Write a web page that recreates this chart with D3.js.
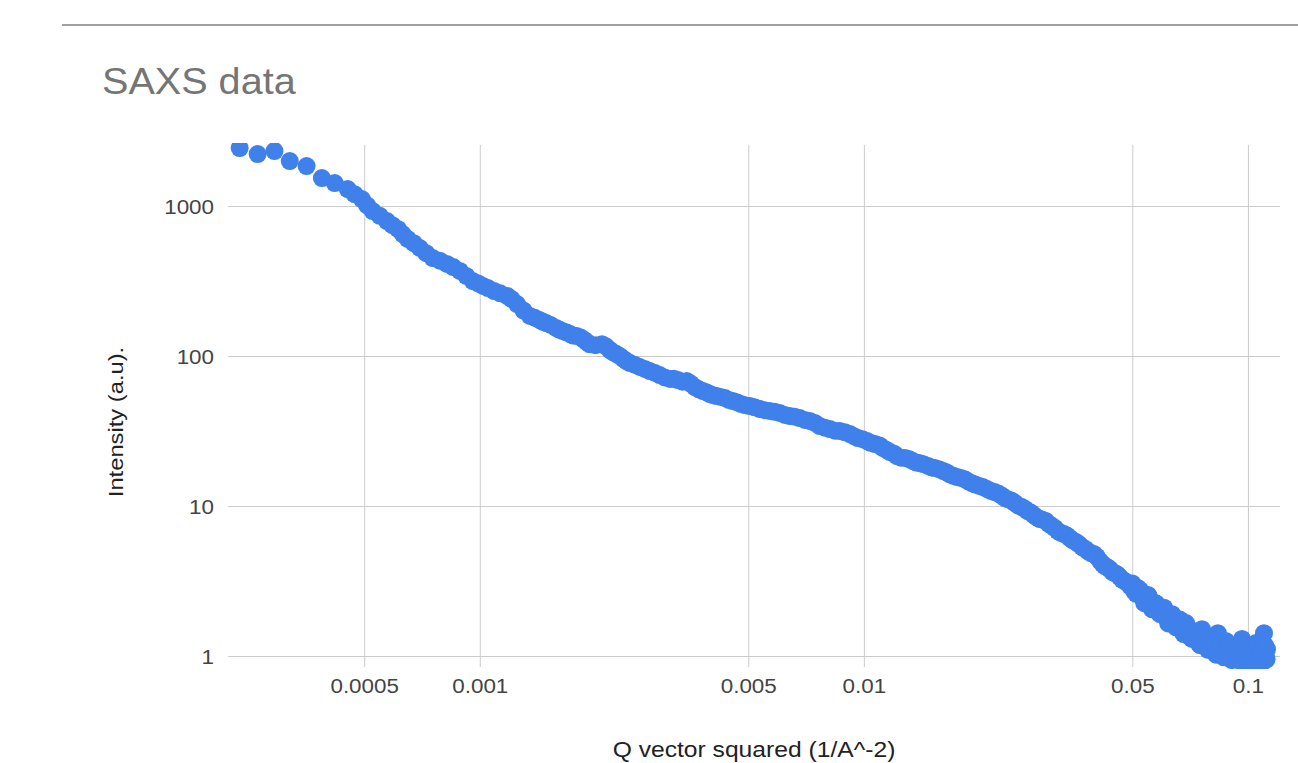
<!DOCTYPE html>
<html>
<head>
<meta charset="utf-8">
<script src="https://cdn.jsdelivr.net/npm/d3@7"></script>
<style>
  body { margin: 0; background: #fff; }
  svg { display: block; font-family: "Liberation Sans", Arial, sans-serif; }
</style>
</head>
<body>
<div id="chart"></div>
<script>
// SAXS curve (scatter, so order does not matter)
let qSquared = [
    0.000237, 0.000264, 0.000292, 0.000320, 0.000354, 0.000388, 0.000419, 0.000453, 0.000493, 0.000526,
    0.000573, 0.000612, 0.000649, 0.000698, 0.000754, 0.000821, 0.000887, 0.000959, 0.00102, 0.00109,
    0.00118, 0.00125, 0.00135, 0.00143, 0.00149, 0.00158, 0.00164, 0.00172, 0.00179, 0.00187,
    0.00193, 0.00208, 0.00218, 0.00227, 0.00237, 0.00246, 0.00261, 0.00277, 0.00294, 0.00313,
    0.00328, 0.00346, 0.00363, 0.00381, 0.00397, 0.00414, 0.00435, 0.00456, 0.00478, 0.00505,
    0.00536, 0.00569, 0.00604, 0.00642, 0.00681, 0.00723, 0.00768, 0.00816, 0.00866, 0.00920,
    0.00965, 0.0102, 0.0107, 0.0112, 0.0117, 0.0122, 0.0128, 0.0134, 0.0140, 0.0147,
    0.0153, 0.0161, 0.0167, 0.0175, 0.0183, 0.0191, 0.0200, 0.0209, 0.0219, 0.0229,
    0.0237, 0.0247, 0.0258, 0.0267, 0.0277, 0.0287, 0.0298, 0.0309, 0.0320, 0.0332,
    0.0344, 0.0357, 0.0370, 0.0383, 0.0397, 0.0412, 0.0424, 0.0437, 0.0451, 0.0464,
    0.0478, 0.0493, 0.0505, 0.0517, 0.0530, 0.0543, 0.0556, 0.0569, 0.0583, 0.0597,
    0.0612, 0.0627, 0.0642, 0.0657, 0.0673, 0.0690, 0.0706, 0.0723, 0.0741, 0.0759,
    0.0777, 0.0796, 0.0816, 0.0835, 0.0856, 0.0876, 0.0898, 0.0919, 0.0942, 0.0965,
    0.0988, 0.1012, 0.1037, 0.1049, 0.1062, 0.1075, 0.1088, 0.1101, 0.1114, 0.1121,
    // points in between, where the markers merge into a band
    0.000472, 0.000509, 0.000549, 0.000592, 0.000630, 0.000673, 0.000725, 0.000787, 0.000853, 0.000922,
    0.00099, 0.00105, 0.00113, 0.00121, 0.00130, 0.00139, 0.00146, 0.00153, 0.00161, 0.00168,
    0.00175, 0.00183, 0.00190, 0.00200, 0.00213, 0.00222, 0.00232, 0.00241, 0.00253, 0.00269,
    0.00285, 0.00303, 0.00320, 0.00337, 0.00354, 0.00372, 0.00389, 0.00405, 0.00424, 0.00445,
    0.00467, 0.00491, 0.00520, 0.00552, 0.00586, 0.00623, 0.00661, 0.00702, 0.00745, 0.00792,
    0.00841, 0.00893, 0.00942, 0.00992, 0.0104, 0.0110, 0.0115, 0.0120, 0.0125, 0.0131,
    0.0137, 0.0143, 0.0150, 0.0157, 0.0164, 0.0171, 0.0179, 0.0187, 0.0195, 0.0204,
    0.0214, 0.0224, 0.0233, 0.0242, 0.0252, 0.0262, 0.0272, 0.0282, 0.0292, 0.0303,
    0.0314, 0.0326, 0.0338, 0.0350, 0.0363, 0.0376, 0.0390, 0.0404, 0.0418, 0.0430,
    0.0444, 0.0457, 0.0471, 0.0485,
    // the noisy tail
    0.0500, 0.0512, 0.0524, 0.0537, 0.0550, 0.0563, 0.0576, 0.0590, 0.0605, 0.0620,
    0.0635, 0.0650, 0.0665, 0.0680, 0.0698, 0.0715, 0.0732, 0.0750, 0.0768, 0.0787,
    0.0806, 0.0826, 0.0846, 0.0866, 0.0887, 0.0908, 0.0930, 0.0953, 0.0976, 0.1000,
    0.1024, 0.1043, 0.1056, 0.1068, 0.1081, 0.1095, 0.1108, 0.1118
];
let intensity = [
    2436, 2222, 2326, 1995, 1848, 1537, 1423, 1298, 1113, 926,
    794, 703, 603, 525, 450, 411, 369, 316, 293, 271,
    251, 222, 185, 174, 166, 154, 147, 140, 136, 128,
    120, 120, 110, 103, 95.5, 89.8, 84.5, 79.4, 74.7, 70.3,
    69.2, 68.1, 62.1, 58.4, 55.8, 54.1, 52.5, 50.1, 47.9, 46.4,
    44.3, 43.0, 41.7, 39.8, 38.6, 36.9, 34.1, 32.6, 31.6, 30.2,
    28.4, 27.1, 25.9, 24.4, 22.9, 21.5, 20.9, 20.0, 19.3, 18.5,
    17.9, 17.1, 16.3, 15.6, 15.1, 14.2, 13.6, 13.0, 12.4, 11.7,
    11.1, 10.5, 9.85, 9.26, 8.71, 8.19, 7.94, 7.36, 6.81, 6.51,
    6.12, 5.75, 5.33, 5.01, 4.79, 4.30, 3.98, 3.80, 3.57, 3.36,
    3.16, 2.93, 2.71, 2.84, 2.47, 2.33, 2.40, 2.12, 2.00, 2.06,
    1.82, 1.71, 1.76, 1.58, 1.47, 1.66, 1.34, 1.42, 1.26, 1.51,
    1.17, 1.30, 1.08, 1.42, 1.05, 1.26, 1.00, 1.17, 0.955, 1.30,
    0.985, 1.11, 0.926, 1.22, 1.00, 1.08, 0.926, 1.42, 0.985, 1.11,
    1200, 1010, 860, 745, 650, 565, 485, 432, 392, 342,
    305, 284, 262, 240, 201, 180, 169, 161, 150, 144,
    137, 133, 124, 118, 116, 106, 99.5, 92.5, 87.5, 82.0,
    77.5, 72.0, 70.5, 67.5, 65.5, 60.0, 57.4, 54.8, 53.4, 51.0,
    49.2, 47.0, 45.5, 43.5, 42.5, 40.5, 39.4, 37.5, 35.8, 33.3,
    31.8, 31.0, 29.2, 27.9, 26.4, 25.3, 23.5, 22.3, 21.0, 20.6,
    19.5, 19.0, 18.1, 17.6, 16.8, 15.9, 15.4, 14.6, 13.9, 13.4,
    12.6, 12.1, 11.3, 10.9, 10.1, 9.6, 9.05, 8.40, 8.10, 7.60,
    7.15, 6.62, 6.35, 5.90, 5.58, 5.20, 4.85, 4.60, 4.12, 3.92,
    3.62, 3.50, 3.22, 3.08,
    3.05, 2.60, 2.75, 2.25, 2.55, 2.05, 2.25, 1.90, 2.10, 1.65,
    1.90, 1.55, 1.75, 1.40, 1.55, 1.30, 1.45, 1.18, 1.40, 1.10,
    1.25, 1.02, 1.20, 0.98, 1.15, 0.94, 1.12, 0.93, 1.18, 0.92,
    1.15, 0.95, 1.20, 0.93, 1.05, 0.92, 1.18, 0.95
];
let xTicks = [0.0005, 0.001, 0.005, 0.01, 0.05, 0.1];
let xTickLabels = ["0.0005", "0.001", "0.005", "0.01", "0.05", "0.1"];
let yTicks = [1, 10, 100, 1000];
let yTickLabels = ["1", "10", "100", "1000"];

let totalWidth = 1298,
    totalHeight = 763;
let margin = { top: 145, right: 18, bottom: 96, left: 228 };
let width = totalWidth - margin.left - margin.right,
    height = totalHeight - margin.top - margin.bottom;

let points = qSquared.map(function(q, i) { return { q: q, v: intensity[i] }; });

let xScale = d3.scaleLog().domain([0.000221, 0.1212]).range([0, width]);
let yScale = d3.scaleLog().domain([0.845, 2552]).range([height, 0]);

// the reference font runs a little wider than Arial
function widen(sel, k) {
    sel.each(function() {
        let len = this.getComputedTextLength();
        d3.select(this).attr("textLength", len * k).attr("lengthAdjust", "spacingAndGlyphs");
    });
}

let svg = d3.select("#chart").append("svg")
    .attr("width", totalWidth)
    .attr("height", totalHeight);

svg.append("line")
    .attr("x1", 62).attr("x2", totalWidth)
    .attr("y1", 25).attr("y2", 25)
    .attr("stroke", "#a0a0a0").attr("stroke-width", 2);

svg.append("text")
    .attr("x", 102).attr("y", 94)
    .attr("font-size", 37)
    .attr("fill", "#757575")
    .text("SAXS data")
    .call(widen, 1.07);

let g = svg.append("g")
    .attr("transform", "translate(" + margin.left + "," + margin.top + ")");

let xAxis = d3.axisBottom(xScale)
    .tickValues(xTicks)
    .tickFormat(function(d, i) { return xTickLabels[i]; })
    .tickSize(-height)
    .tickPadding(12);

let yAxis = d3.axisLeft(yScale)
    .tickValues(yTicks)
    .tickFormat(function(d, i) { return yTickLabels[i]; })
    .tickSize(-width)
    .tickPadding(14);

let gx = g.append("g")
    .attr("transform", "translate(0," + height + ")")
    .call(xAxis);
let gy = g.append("g").call(yAxis);

[gx, gy].forEach(function(ax) {
    ax.select(".domain").remove();
    ax.selectAll(".tick line").attr("stroke", "#cccccc");
    ax.selectAll(".tick text")
        .attr("fill", "#444444")
        .attr("font-size", 20)
        .attr("font-family", "Liberation Sans, Arial, sans-serif")
        .call(widen, 1.12);
});
gy.selectAll(".tick text").attr("dy", "0.36em");
gx.selectAll(".tick text").attr("dy", "0.72em");

g.append("clipPath").attr("id", "plotClip")
    .append("rect")
    .attr("x", -10).attr("y", -2)
    .attr("width", width + 20).attr("height", height + 4);

g.append("g")
    .attr("clip-path", "url(#plotClip)")
    .selectAll("circle")
    .data(points)
    .enter().append("circle")
    .attr("cx", function(d) { return xScale(d.q); })
    .attr("cy", function(d) { return yScale(d.v); })
    .attr("r", 9)
    .attr("fill", "#3f80ea");

svg.append("text")
    .attr("x", 754).attr("y", 757)
    .attr("text-anchor", "middle")
    .attr("font-size", 22)
    .attr("fill", "#222222")
    .text("Q vector squared (1/A^-2)")
    .call(widen, 1.12);

svg.append("text")
    .attr("transform", "translate(123,422) rotate(-90)")
    .attr("text-anchor", "middle")
    .attr("font-size", 21)
    .attr("fill", "#222222")
    .text("Intensity (a.u).")
    .call(widen, 1.13);
</script>
</body>
</html>
